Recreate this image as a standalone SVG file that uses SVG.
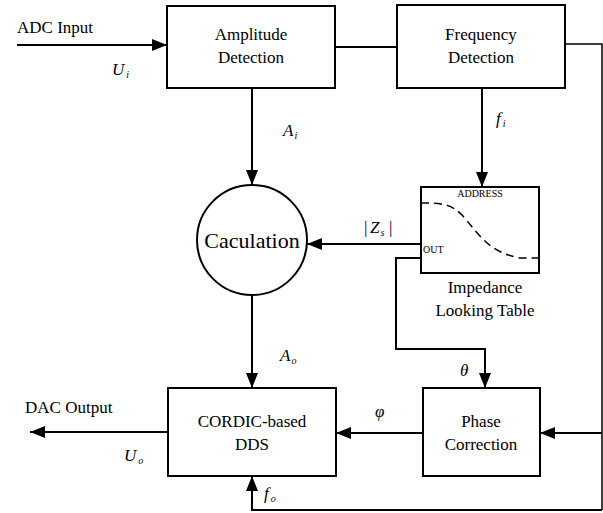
<svg xmlns="http://www.w3.org/2000/svg" width="603" height="513" viewBox="0 0 603 513" font-family="Liberation Serif, Tinos, Times New Roman, Times, DejaVu Serif, Noto Serif, serif">
  <defs>
    <marker id="arrowBig" viewBox="0 0 15 12" refX="15" refY="6" markerWidth="15" markerHeight="12" markerUnits="userSpaceOnUse" orient="auto">
      <path d="M0,0 L15,6 L0,12 Z" fill="#000"/>
    </marker>
  </defs>
  <style>
    .box { fill: #fff; stroke: #000; stroke-width: 2; }
    .wire { fill: none; stroke: #000; stroke-width: 2; }
    text { fill: #000; }
    .txt { font-size: 17px; text-anchor: middle; }
    .lbl { font-size: 17px; }
    .var { font-size: 17px; font-style: italic; }
    .sub { font-size: 10px; }
    .small { font-size: 10px; }
    .big { font-size: 22px; text-anchor: middle; }
  </style>

  <rect width="603" height="513" fill="#fff"/>

  <!-- connectors -->
  <g id="connectors">
    <line class="wire" x1="17" y1="45" x2="167" y2="45" marker-end="url(#arrowBig)"/>
    <line class="wire" x1="335" y1="47" x2="397" y2="47"/>
    <polyline class="wire" points="565,44 602,44 602,510" style="stroke-width:1.5"/>
    <line class="wire" x1="252" y1="88" x2="252" y2="185" marker-end="url(#arrowBig)"/>
    <line class="wire" x1="482" y1="88" x2="482" y2="187" marker-end="url(#arrowBig)"/>
    <line class="wire" x1="421" y1="244" x2="307" y2="244" marker-end="url(#arrowBig)"/>
    <polyline class="wire" points="421,258 396,258 396,349 485,349 485,388" marker-end="url(#arrowBig)"/>
    <line class="wire" x1="252" y1="295" x2="252" y2="388" marker-end="url(#arrowBig)"/>
    <line class="wire" x1="423" y1="433" x2="336" y2="433" marker-end="url(#arrowBig)"/>
    <line class="wire" x1="602" y1="433" x2="540" y2="433" marker-end="url(#arrowBig)"/>
    <line class="wire" x1="168" y1="432" x2="30" y2="432" marker-end="url(#arrowBig)"/>
    <polyline class="wire" points="602,510 252,510 252,476" marker-end="url(#arrowBig)"/>
  </g>

  <!-- signal labels -->
  <g id="labels">
    <text class="lbl" x="17" y="33">ADC Input</text>
    <text class="var" x="112" y="75">U<tspan class="sub" dx="2" dy="3">i</tspan></text>
    <text class="var" x="283" y="136">A<tspan class="sub" dx="1" dy="3">i</tspan></text>
    <text class="var" x="496" y="124">f<tspan class="sub" dx="2" dy="3">i</tspan></text>
    <text class="lbl" x="364" y="233">|</text>
    <text class="var" x="370" y="233">Z<tspan class="sub" dx="1" dy="3">s</tspan></text>
    <text class="lbl" x="389" y="233">|</text>
    <text class="var" x="460" y="376">θ</text>
    <text class="var" x="375" y="417">φ</text>
    <text class="var" x="280" y="361">A<tspan class="sub" dx="1" dy="3">o</tspan></text>
    <text class="lbl" x="25" y="413">DAC Output</text>
    <text class="var" x="124" y="461">U<tspan class="sub" dx="2" dy="3">o</tspan></text>
    <text class="var" x="264" y="499">f<tspan class="sub" dx="2" dy="3">o</tspan></text>
  </g>

  <g id="amplitude-detection">
    <rect class="box" x="167" y="6" width="168" height="82"/>
    <text class="txt" x="251" y="40">Amplitude</text>
    <text class="txt" x="251" y="63">Detection</text>
  </g>

  <g id="frequency-detection">
    <rect class="box" x="397" y="5" width="168" height="83"/>
    <text class="txt" x="481" y="40">Frequency</text>
    <text class="txt" x="481" y="63">Detection</text>
  </g>

  <g id="caculation">
    <circle class="box" cx="252" cy="240" r="55"/>
    <text class="big" x="252" y="248">Caculation</text>
  </g>

  <g id="impedance-table">
    <rect class="box" x="421" y="187" width="118" height="86"/>
    <text class="small" x="480" y="197" text-anchor="middle">ADDRESS</text>
    <text class="small" x="423" y="253">OUT</text>
    <path d="M421,203 C445,203 452,205 462,215 C480,235 488,252 520,258 L539,258" fill="none" stroke="#000" stroke-width="1.5" stroke-dasharray="8,5"/>
    <text class="txt" x="485" y="293">Impedance</text>
    <text class="txt" x="485" y="316">Looking Table</text>
  </g>

  <g id="phase-correction">
    <rect class="box" x="423" y="388" width="117" height="88"/>
    <text class="txt" x="481" y="427">Phase</text>
    <text class="txt" x="481" y="450">Correction</text>
  </g>

  <g id="cordic-dds">
    <rect class="box" x="168" y="388" width="168" height="88"/>
    <text class="txt" x="252" y="427">CORDIC-based</text>
    <text class="txt" x="252" y="450">DDS</text>
  </g>
</svg>
